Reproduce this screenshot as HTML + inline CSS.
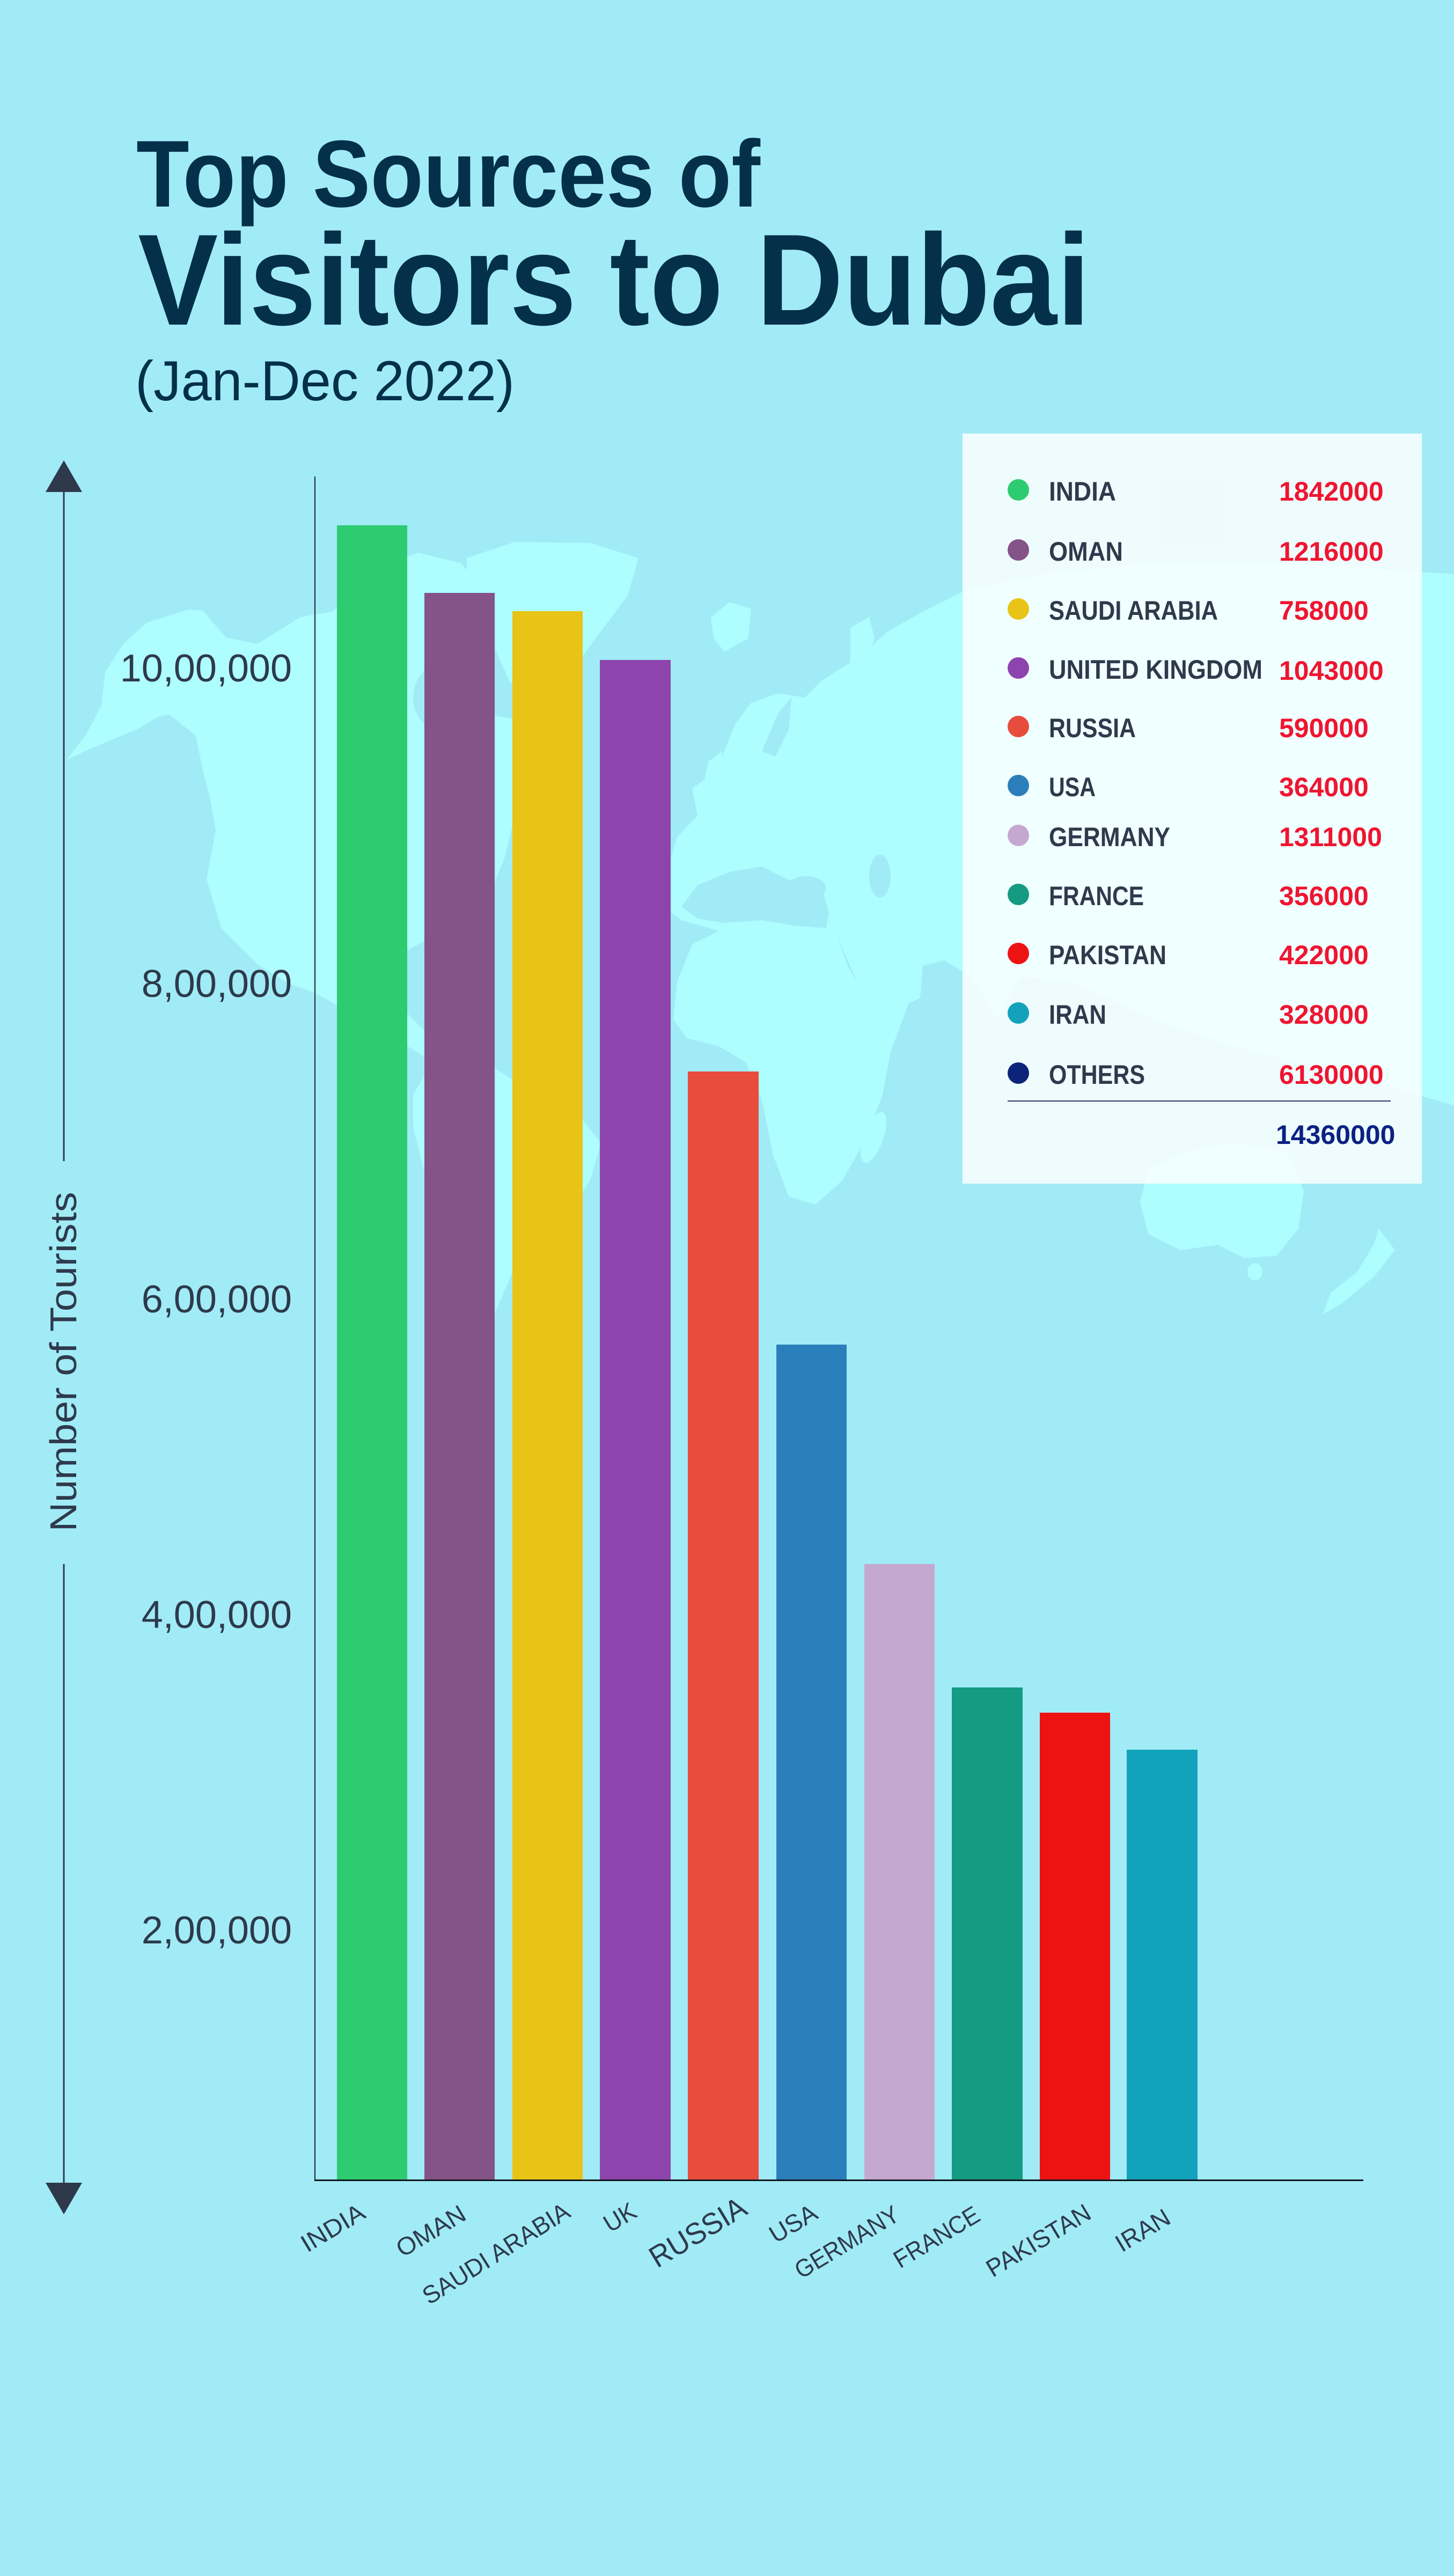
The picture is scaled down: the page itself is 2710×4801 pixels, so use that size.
<!DOCTYPE html>
<html>
<head>
<meta charset="utf-8">
<style>
  html, body { margin: 0; padding: 0; background: #a1ebf6; }
  svg { display: block; }
  text { font-family: "Liberation Sans", "DejaVu Sans", sans-serif; }
</style>
</head>
<body>
<svg width="2710" height="4801" viewBox="0 0 2710 4801" xmlns="http://www.w3.org/2000/svg">
  <rect x="0" y="0" width="2710" height="4801" fill="#a1ebf6"/>

  <!-- World map (faint) -->
  <g fill="#aefdff">
    <!-- North America -->
    <polygon points="123,1417 154,1402 210,1378 260,1357 295,1336 316,1332 365,1371 379,1441 390,1480 402,1547 385,1639 413,1731 482,1799 540,1834 586,1850 640,1880 700,1915 760,1950 800,1975 830,1975 800,1930 760,1890 720,1850 650,1790 640,1760 700,1760 760,1770 820,1740 880,1700 920,1650 940,1600 960,1520 1000,1460 1040,1420 1000,1380 960,1340 900,1330 860,1290 880,1240 940,1200 960,1150 900,1120 820,1100 760,1120 700,1130 620,1140 560,1150 480,1200 421,1188 379,1139 351,1136 274,1160 230,1200 196,1252 189,1315 160,1370"/>
    <!-- Arctic archipelago -->
    <polygon points="620,1140 700,1060 780,1030 860,1050 900,1100 880,1160 800,1180 700,1170"/>
    <!-- Greenland -->
    <polygon points="870,1040 960,1010 1100,1012 1190,1040 1170,1110 1110,1190 1050,1270 995,1330 950,1270 905,1170 870,1100"/>
    <!-- Iceland -->
    <ellipse cx="1215" cy="1255" rx="35" ry="20"/>
    <!-- South America -->
    <polygon points="770,2040 800,1990 860,1970 920,1990 1000,2040 1080,2080 1120,2130 1100,2200 1060,2260 1000,2300 960,2360 930,2430 900,2500 880,2540 860,2500 860,2420 850,2330 820,2250 790,2180 770,2100"/>
    <!-- Eurasia + Africa -->
    <polygon points="1250,1700 1244,1620 1262,1560 1300,1520 1290,1470 1330,1440 1350,1400 1370,1350 1400,1310 1450,1292 1500,1300 1530,1270 1560,1250 1610,1220 1650,1180 1720,1140 1800,1100 1950,1070 2150,1050 2400,1050 2710,1070 2710,2060 2500,2000 2300,1950 2150,1900 2000,1830 1900,1820 1860,1900 1810,1820 1760,1790 1720,1800 1715,1860 1640,1895 1610,1860 1580,1790 1560,1745 1580,1800 1620,1870 1720,1800 1690,1880 1660,1960 1645,2040 1615,2120 1570,2200 1520,2245 1470,2230 1440,2150 1420,2050 1390,1980 1340,1950 1280,1935 1255,1900 1262,1830 1290,1760 1340,1735 1270,1715"/>
    <!-- UK -->
    <polygon points="1305,1490 1320,1420 1345,1400 1345,1470 1330,1500"/>
    <!-- Svalbard / Novaya Zemlya -->
    <polygon points="1325,1150 1360,1122 1400,1135 1395,1190 1350,1214 1330,1190"/>
    <polygon points="1585,1170 1620,1150 1630,1190 1600,1280 1585,1250"/>
    <!-- Madagascar -->
    <ellipse cx="1628" cy="2120" rx="18" ry="50" transform="rotate(20 1628 2120)"/>
    <!-- Australia -->
    <polygon points="2140,2180 2200,2150 2300,2130 2400,2150 2430,2220 2420,2290 2380,2340 2320,2345 2270,2320 2200,2330 2140,2300 2125,2240"/>
    <ellipse cx="2339" cy="2370" rx="14" ry="16"/>
    <!-- New Zealand -->
    <polygon points="2570,2290 2600,2330 2560,2380 2500,2430 2465,2450 2480,2410 2530,2370 2560,2320"/>
  </g>
  <!-- seas cut out -->
  <g fill="#a1ebf6">
    <polygon points="1270,1690 1300,1650 1360,1625 1420,1615 1470,1640 1530,1650 1545,1700 1540,1730 1480,1725 1420,1715 1350,1720 1300,1712"/>
    <ellipse cx="1503" cy="1655" rx="36" ry="22"/>
    <ellipse cx="1640" cy="1633" rx="20" ry="40"/>
    <polygon points="1420,1400 1450,1330 1475,1300 1470,1360 1445,1410"/>
    <ellipse cx="820" cy="1300" rx="50" ry="60"/>
  </g>

  <!-- Title -->
  <g fill="#05304a">
    <text x="254" y="385" font-size="177" font-weight="700" textLength="1163" lengthAdjust="spacingAndGlyphs">Top Sources of</text>
    <text x="257" y="605" font-size="242" font-weight="700" textLength="1775" lengthAdjust="spacingAndGlyphs">Visitors to Dubai</text>
    <text x="252" y="746" font-size="105" textLength="707" lengthAdjust="spacingAndGlyphs">(Jan-Dec 2022)</text>
  </g>

  <!-- Y-axis arrow -->
  <g fill="#2e3a4c" stroke="none">
    <rect x="117.5" y="915" width="3" height="1249"/>
    <rect x="117.5" y="2915" width="3" height="1153"/>
    <polygon points="119,858 153,917 85,917"/>
    <polygon points="85,4068 153,4068 119,4127"/>
  </g>
  <text transform="translate(142,2538) rotate(-90)" text-anchor="middle" font-size="70" fill="#2e3a4c" textLength="633" lengthAdjust="spacingAndGlyphs">Number of Tourists</text>

  <!-- Tick labels -->
  <g font-size="72" fill="#2d3a4b" text-anchor="end">
    <text x="544" y="1270">10,00,000</text>
    <text x="544" y="1858">8,00,000</text>
    <text x="544" y="2446">6,00,000</text>
    <text x="544" y="3034">4,00,000</text>
    <text x="544" y="3622">2,00,000</text>
  </g>

  <!-- Bars -->
  <rect x="628" y="979" width="131" height="3084" fill="#2ecc71"/>
  <rect x="791" y="1105" width="131" height="2958" fill="#845388"/>
  <rect x="955" y="1139" width="131" height="2924" fill="#e8c417"/>
  <rect x="1118" y="1230" width="132" height="2833" fill="#8e44ad"/>
  <rect x="1282" y="1997" width="132" height="2066" fill="#e74c3c"/>
  <rect x="1447" y="2506" width="131" height="1557" fill="#2a7fba"/>
  <rect x="1611" y="2915" width="131" height="1148" fill="#c5a8cf"/>
  <rect x="1774" y="3145" width="132" height="918" fill="#149b81"/>
  <rect x="1938" y="3192" width="131" height="871" fill="#ee1313"/>
  <rect x="2100" y="3261" width="132" height="802" fill="#13a2bb"/>

  <!-- Axes -->
  <rect x="586" y="888" width="2" height="3177" fill="#1a2530"/>
  <rect x="586" y="4062" width="1955" height="3" fill="#111820"/>

  <!-- X labels -->
  <g font-size="46" fill="#2e3a4c" text-anchor="end">
    <text transform="translate(684,4132) rotate(-31)" textLength="130" lengthAdjust="spacingAndGlyphs">INDIA</text>
    <text transform="translate(872,4135) rotate(-31)" textLength="142" lengthAdjust="spacingAndGlyphs">OMAN</text>
    <text transform="translate(1066,4130) rotate(-32)" textLength="314" lengthAdjust="spacingAndGlyphs">SAUDI ARABIA</text>
    <text transform="translate(1190,4130) rotate(-31)" textLength="62" lengthAdjust="spacingAndGlyphs">UK</text>
    <text transform="translate(1396,4125) rotate(-31)" font-size="56" textLength="200" lengthAdjust="spacingAndGlyphs">RUSSIA</text>
    <text transform="translate(1527,4133) rotate(-31)" textLength="95" lengthAdjust="spacingAndGlyphs">USA</text>
    <text transform="translate(1680,4136) rotate(-31)" textLength="218" lengthAdjust="spacingAndGlyphs">GERMANY</text>
    <text transform="translate(1830,4137) rotate(-31)" textLength="178" lengthAdjust="spacingAndGlyphs">FRANCE</text>
    <text transform="translate(2037,4133) rotate(-31)" textLength="218" lengthAdjust="spacingAndGlyphs">PAKISTAN</text>
    <text transform="translate(2185,4142) rotate(-31)" textLength="110" lengthAdjust="spacingAndGlyphs">IRAN</text>
  </g>

  <!-- Legend -->
  <rect x="1794" y="808" width="856" height="1398" fill="#ffffff" fill-opacity="0.82"/>
  <g>
    <circle cx="1898" cy="913" r="20" fill="#2ecc71"/>
    <circle cx="1898" cy="1025" r="20" fill="#845388"/>
    <circle cx="1898" cy="1135" r="20" fill="#e8c417"/>
    <circle cx="1898" cy="1245" r="20" fill="#8e44ad"/>
    <circle cx="1898" cy="1354" r="20" fill="#e74c3c"/>
    <circle cx="1898" cy="1464" r="20" fill="#2a7fba"/>
    <circle cx="1898" cy="1557" r="20" fill="#c5a8cf"/>
    <circle cx="1898" cy="1667" r="20" fill="#149b81"/>
    <circle cx="1898" cy="1777" r="20" fill="#ee1313"/>
    <circle cx="1898" cy="1888" r="20" fill="#13a2bb"/>
    <circle cx="1898" cy="2000" r="20" fill="#0c237a"/>
  </g>
  <g font-size="50" font-weight="700" fill="#2e3a4c">
    <text x="1955" y="933" textLength="125" lengthAdjust="spacingAndGlyphs">INDIA</text>
    <text x="1955" y="1045" textLength="138" lengthAdjust="spacingAndGlyphs">OMAN</text>
    <text x="1955" y="1155" textLength="315" lengthAdjust="spacingAndGlyphs">SAUDI ARABIA</text>
    <text x="1955" y="1265" textLength="398" lengthAdjust="spacingAndGlyphs">UNITED KINGDOM</text>
    <text x="1955" y="1374" textLength="162" lengthAdjust="spacingAndGlyphs">RUSSIA</text>
    <text x="1955" y="1484" textLength="87" lengthAdjust="spacingAndGlyphs">USA</text>
    <text x="1955" y="1577" textLength="226" lengthAdjust="spacingAndGlyphs">GERMANY</text>
    <text x="1955" y="1687" textLength="177" lengthAdjust="spacingAndGlyphs">FRANCE</text>
    <text x="1955" y="1797" textLength="219" lengthAdjust="spacingAndGlyphs">PAKISTAN</text>
    <text x="1955" y="1908" textLength="107" lengthAdjust="spacingAndGlyphs">IRAN</text>
    <text x="1955" y="2020" textLength="179" lengthAdjust="spacingAndGlyphs">OTHERS</text>
  </g>
  <g font-size="50" font-weight="700" fill="#ef1530">
    <text x="2384" y="933">1842000</text>
    <text x="2384" y="1045">1216000</text>
    <text x="2384" y="1155">758000</text>
    <text x="2384" y="1267">1043000</text>
    <text x="2384" y="1374">590000</text>
    <text x="2384" y="1484">364000</text>
    <text x="2384" y="1577">1311000</text>
    <text x="2384" y="1687">356000</text>
    <text x="2384" y="1797">422000</text>
    <text x="2384" y="1908">328000</text>
    <text x="2384" y="2020">6130000</text>
  </g>
  <rect x="1878" y="2051" width="714" height="2" fill="#2a3a6a"/>
  <text x="2378" y="2132" font-size="50" font-weight="700" fill="#0b2183">14360000</text>
</svg>
</body>
</html>
